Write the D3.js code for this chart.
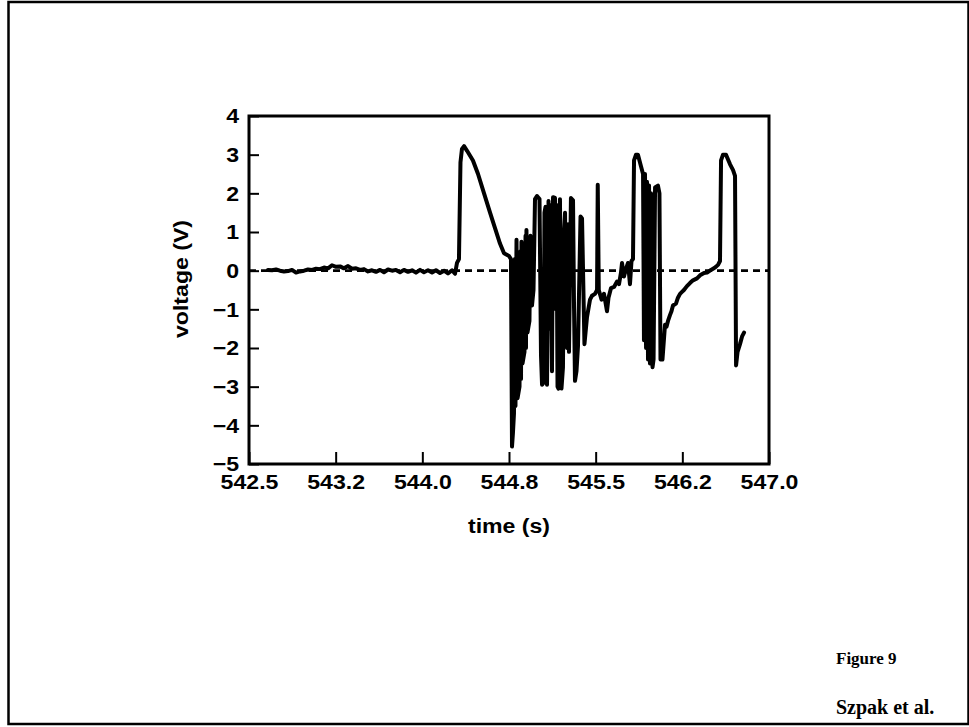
<!DOCTYPE html>
<html>
<head>
<meta charset="utf-8">
<script src="https://cdn.jsdelivr.net/npm/d3@7/dist/d3.min.js"></script>
<style>
body { margin: 0; background: #fff; }
</style>
</head>
<body>
<div id="chart"></div>
<script>

// trace: time (s) and voltage (V)
let times = [
  542.664, 542.699, 542.734, 542.768, 542.803, 542.838, 542.872, 542.907, 542.941, 542.976,
  543.011, 543.045, 543.080, 543.114, 543.149, 543.184, 543.218, 543.253, 543.288, 543.322,
  543.357, 543.391, 543.426, 543.461, 543.495, 543.530, 543.564, 543.599, 543.634, 543.668,
  543.703, 543.738, 543.772, 543.807, 543.841, 543.876, 543.911, 543.945, 543.980, 544.014,
  544.049, 544.084, 544.118, 544.153, 544.188, 544.222, 544.257, 544.283, 544.300,
  544.317, 544.330, 544.343, 544.361, 544.387, 544.438, 544.482, 544.534, 544.586, 544.629,
  544.672, 544.707, 544.750,
  544.767, 544.776, 544.784, 544.793, 544.801, 544.806, 544.815, 544.824, 544.841, 544.849,
  544.854, 544.858, 544.867, 544.884, 544.893, 544.897, 544.901, 544.910, 544.927, 544.936,
  544.944, 544.949, 544.962,
  544.975, 544.992, 545.014, 545.027, 545.036, 545.049, 545.057, 545.066, 545.079, 545.092,
  545.101, 545.109, 545.122, 545.131, 545.148, 545.157, 545.161, 545.170, 545.178, 545.191,
  545.204, 545.217, 545.226, 545.235, 545.243, 545.252, 545.261, 545.269, 545.286, 545.304,
  545.313, 545.321, 545.334, 545.347, 545.369, 545.382, 545.403,
  545.425, 545.451, 545.468, 545.494, 545.512, 545.518, 545.527,
  545.551, 545.572, 545.598, 545.611, 545.633, 545.659, 545.685, 545.702, 545.719, 545.728,
  545.745, 545.763, 545.780, 545.797, 545.810, 545.823,
  545.832, 545.849, 545.866, 545.892, 545.910, 545.918, 545.927, 545.936, 545.944, 545.953,
  545.962, 545.970, 545.979, 545.992, 546.001, 546.014, 546.039, 546.052, 546.061, 546.078,
  546.100, 546.113, 546.126, 546.143, 546.156, 546.169, 546.195, 546.212, 546.230, 546.247,
  546.264, 546.290, 546.316, 546.342, 546.377, 546.403, 546.438, 546.464, 546.498, 546.533,
  546.559, 546.576,
  546.585, 546.602, 546.628, 546.663, 546.689, 546.706, 546.715, 546.728, 546.749, 546.767, 546.784
];
let volts = [
  0.02, 0.01, 0.03, 0.00, -0.02, -0.01, 0.02, -0.05, -0.02, 0.00,
  0.03, 0.02, 0.05, 0.04, 0.08, 0.06, 0.14, 0.10, 0.11, 0.06,
  0.12, 0.05, 0.06, 0.02, 0.04, -0.02, 0.01, -0.03, 0.02, -0.04,
  0.03, 0.00, 0.02, -0.04, 0.02, -0.03, 0.01, -0.05, 0.02, -0.04,
  0.01, -0.05, 0.01, -0.06, 0.00, -0.07, 0.01, -0.08, 0.20,
  0.30, 2.80, 3.15, 3.22, 3.10, 2.85, 2.50, 2.00, 1.50, 1.10,
  0.70, 0.45, 0.38,
  0.30, -4.55, -4.20, -3.70, 0.30, -3.50, 0.80, -3.30, -3.00, 0.50,
  -2.80, 0.75, -2.40, -2.10, 0.90, -2.00, 1.05, -1.60, -1.30, 0.90,
  0.70, -0.90, -0.50,
  1.85, 1.93, 1.85, -2.20, -2.95, -2.90, 1.50, 1.65, -2.95, 1.80,
  -1.50, 1.70, -2.60, 1.90, 1.88, -1.00, 1.70, -3.00, -3.05, 1.85,
  -3.05, -2.50, 1.00, 1.50, -1.20, -2.00, 1.20, -2.10, 1.88, 1.82,
  -1.00, -2.85, -2.60, -1.95, 1.40, 1.35, -1.90,
  -1.20, -0.75, -0.65, -0.60, -0.50, 2.22, -0.50,
  -0.75, -0.60, -1.05, -0.70, -0.45, -0.42, -0.28, -0.35, -0.05, 0.20,
  -0.15, 0.05, 0.20, -0.35, 0.25, 0.30,
  2.85, 3.00, 3.00, 2.70, 2.50, -1.80, 2.50, -2.00, 2.30, -2.30,
  2.20, -2.40, 2.00, -2.50, -2.30, 2.15, 2.20, 2.00, -2.30, -2.30,
  -1.40, -1.45, -1.30, -1.15, -1.05, -0.90, -0.85, -0.70, -0.60, -0.55,
  -0.50, -0.40, -0.32, -0.25, -0.20, -0.12, -0.06, -0.05, 0.02, 0.08,
  0.15, 0.25,
  2.85, 3.00, 3.00, 2.75, 2.60, 2.45, -2.45, -2.10, -1.90, -1.70, -1.60
];

let xTicks = [542.5, 543.25, 544.0, 544.75, 545.5, 546.25, 547.0];
let xTickLabels = ['542.5', '543.2', '544.0', '544.8', '545.5', '546.2', '547.0'];
let yTicks = [-5, -4, -3, -2, -1, 0, 1, 2, 3, 4];
let xTitle = 'time (s)';
let yTitle = 'voltage (V)';
let notes = ['Figure 9', 'Szpak et al.'];
let noteSizes = [17, 20];

let width = 969;
let height = 727;
let plot = {left: 249, top: 116, right: 769, bottom: 464};
let stretch = 1.1;   // the sans labels are wide-set in the original
let sans = '"Liberation Sans", Arial, sans-serif';

let svg = d3.select('#chart').append('svg')
  .attr('width', width)
  .attr('height', height);

// page frame
svg.append('rect')
  .attr('x', 8.5).attr('y', 2)
  .attr('width', 960).attr('height', 722)
  .attr('fill', 'none')
  .attr('stroke', '#000')
  .attr('stroke-width', 2.5);

let x = d3.scaleLinear().domain([542.5, 547.0]).range([plot.left, plot.right]);
let y = d3.scaleLinear().domain([-5, 4]).range([plot.bottom, plot.top]);

const g = svg.append('g');

// zero reference line
g.append('line')
  .attr('x1', x(542.5)).attr('x2', x(547.0))
  .attr('y1', y(0)).attr('y2', y(0))
  .attr('stroke', '#000')
  .attr('stroke-width', 2.8)
  .attr('stroke-dasharray', '7,5');

let pts = times.map((t, i) => [t, volts[i]]);
let line = d3.line().x(d => x(d[0])).y(d => y(d[1]));

g.append('path')
  .datum(pts)
  .attr('d', line)
  .attr('fill', 'none')
  .attr('stroke', '#000')
  .attr('stroke-width', 4)
  .attr('stroke-linejoin', 'round')
  .attr('stroke-linecap', 'round');

// axes, ticks pointing inward
const xAxis = g.append('g')
  .attr('transform', 'translate(0,' + plot.bottom + ')')
  .call(d3.axisBottom(x)
    .tickValues(xTicks)
    .tickFormat((d, i) => xTickLabels[i])
    .tickSizeInner(-12)
    .tickSizeOuter(0)
    .tickPadding(10));

const yAxis = g.append('g')
  .attr('transform', 'translate(' + plot.left + ',0)')
  .call(d3.axisLeft(y)
    .tickValues(yTicks)
    .tickFormat(d3.format('d'))
    .tickSizeInner(-10)
    .tickSizeOuter(0)
    .tickPadding(9));

[xAxis, yAxis].forEach(a => {
  a.select('.domain').remove();
  a.selectAll('.tick line').attr('stroke', '#000').attr('stroke-width', 2);
  a.selectAll('.tick text')
    .attr('fill', '#000')
    .attr('font-family', sans)
    .attr('font-weight', 'bold')
    .attr('font-size', '21px')
    .attr('transform', 'scale(' + stretch + ',1)');
});

// plot box
g.append('rect')
  .attr('x', plot.left).attr('y', plot.top)
  .attr('width', plot.right - plot.left)
  .attr('height', plot.bottom - plot.top)
  .attr('fill', 'none')
  .attr('stroke', '#000')
  .attr('stroke-width', 3);

svg.append('text')
  .attr('transform', 'translate(' + ((plot.left + plot.right) / 2) + ',533) scale(' + stretch + ',1)')
  .attr('text-anchor', 'middle')
  .attr('font-family', sans)
  .attr('font-weight', 'bold')
  .attr('font-size', '21px')
  .text(xTitle);

svg.append('text')
  .attr('transform', 'translate(188,279) rotate(-90) scale(' + stretch + ',1)')
  .attr('text-anchor', 'middle')
  .attr('font-family', sans)
  .attr('font-weight', 'bold')
  .attr('font-size', '21px')
  .text(yTitle);

svg.selectAll('.note')
  .data(notes)
  .enter()
  .append('text')
  .attr('class', 'note')
  .attr('x', 836)
  .attr('y', (d, i) => 664 + i * 50)
  .attr('font-family', '"Liberation Serif", "Times New Roman", serif')
  .attr('font-weight', 'bold')
  .attr('font-size', (d, i) => noteSizes[i] + 'px')
  .text(d => d);

</script>
</body>
</html>
